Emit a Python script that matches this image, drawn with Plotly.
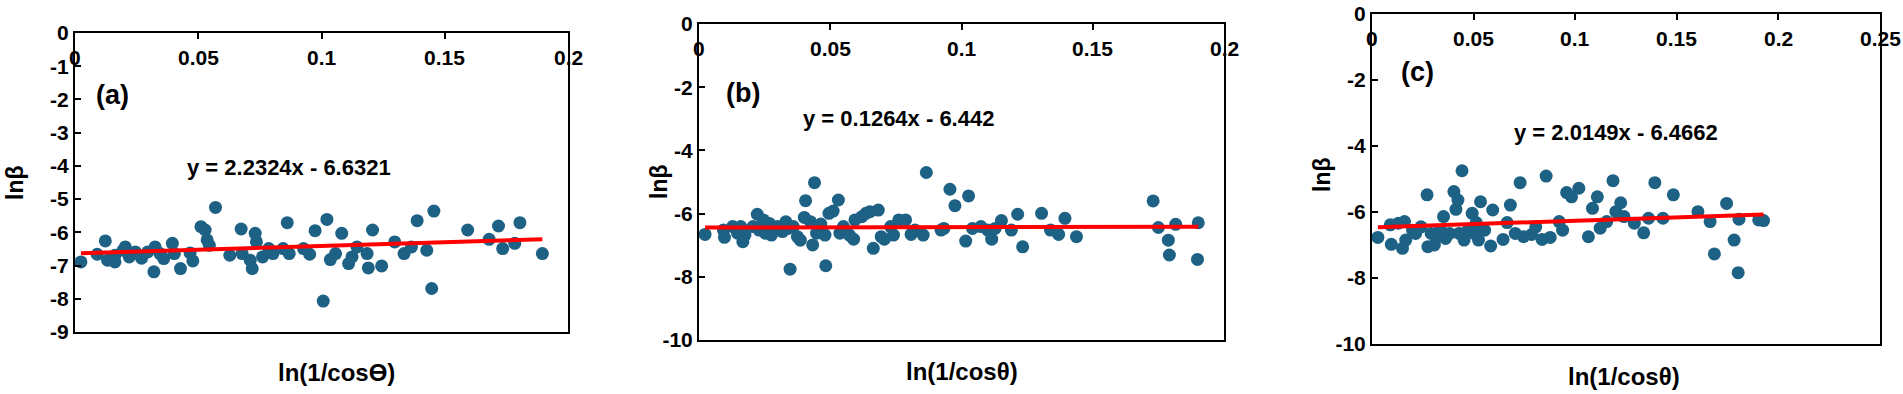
import numpy as np
import plotly.graph_objects as go

# panel (a)
xa = [0.0024, 0.009, 0.0123, 0.0132, 0.0162, 0.0162, 0.0195, 0.0204, 0.022, 0.0245,
      0.027, 0.0295, 0.032, 0.0325, 0.0345, 0.036, 0.0395, 0.0403, 0.0428, 0.0467,
      0.0478, 0.0511, 0.0528, 0.0536, 0.0545, 0.057, 0.0628, 0.0674, 0.0678, 0.0711,
      0.0719, 0.0731, 0.0736, 0.0761, 0.0786, 0.0803, 0.0844, 0.0861, 0.0869, 0.0927,
      0.0952, 0.0974, 0.1007, 0.1022, 0.1036, 0.1057, 0.1082, 0.111, 0.1124, 0.1144,
      0.1185, 0.119, 0.1207, 0.1244, 0.1297, 0.1335, 0.1365, 0.1388, 0.1427, 0.1447,
      0.1456, 0.1593, 0.168, 0.1718, 0.1735, 0.1784, 0.1805, 0.1896]
ya = [-6.89, -6.66, -6.26, -6.84, -6.69, -6.89, -6.54, -6.44, -6.74, -6.59,
      -6.78, -6.59, -7.19, -6.44, -6.64, -6.79, -6.33, -6.64, -7.09, -6.62,
      -6.86, -5.83, -5.93, -6.23, -6.39, -5.25, -6.69, -5.90, -6.64, -6.84,
      -7.09, -6.03, -6.29, -6.74, -6.49, -6.64, -6.49, -5.71, -6.64, -6.49,
      -6.66, -5.95, -8.07, -5.61, -6.82, -6.64, -6.03, -6.94, -6.74, -6.44,
      -6.64, -7.07, -5.93, -7.01, -6.29, -6.64, -6.44, -5.65, -6.54, -7.69,
      -5.36, -5.93, -6.21, -5.81, -6.49, -6.33, -5.71, -6.64]

# panel (b)
xb = [0.0023, 0.0093, 0.0097, 0.0128, 0.0147, 0.0159, 0.0167, 0.0175, 0.0206, 0.0222,
      0.0229, 0.0245, 0.0253, 0.0268, 0.0276, 0.030, 0.0318, 0.0331, 0.0339, 0.0347,
      0.0359, 0.0375, 0.0386, 0.0401, 0.0406, 0.0425, 0.0433, 0.044, 0.0448, 0.0464,
      0.048, 0.0483, 0.0495, 0.0511, 0.0531, 0.0537, 0.055, 0.0573, 0.0589, 0.0594,
      0.062, 0.0636, 0.0651, 0.0664, 0.0683, 0.0694, 0.0706, 0.073, 0.0741, 0.0761,
      0.0787, 0.0808, 0.0823, 0.0854, 0.0866, 0.0922, 0.0933, 0.0956, 0.0975, 0.1016,
      0.1027, 0.1042, 0.1074, 0.110, 0.1115, 0.1128, 0.1152, 0.119, 0.1214, 0.1233,
      0.1305, 0.1339, 0.137, 0.1394, 0.1438, 0.173, 0.175, 0.1788, 0.1792, 0.1816,
      0.1902, 0.1899]
yb = [-6.66, -6.52, -6.75, -6.41, -6.62, -6.41, -6.89, -6.68, -6.41, -6.02,
      -6.52, -6.20, -6.62, -6.31, -6.68, -6.41, -6.57, -6.26, -6.47, -7.76,
      -6.41, -6.73, -6.84, -6.12, -5.59, -6.26, -6.99, -5.02, -6.62, -6.33,
      -6.68, -7.65, -5.99, -5.92, -5.57, -6.62, -6.41, -6.68, -6.81, -6.20,
      -6.10, -5.99, -5.94, -7.10, -5.89, -6.73, -6.81, -6.41, -6.68, -6.20,
      -6.20, -6.66, -6.52, -6.68, -4.70, -6.52, -6.47, -5.23, -5.75, -6.87,
      -5.44, -6.47, -6.41, -6.52, -6.81, -6.47, -6.22, -6.52, -6.02, -7.05,
      -5.99, -6.52, -6.66, -6.15, -6.73, -5.60, -6.44, -6.84, -7.31, -6.34,
      -6.29, -7.45]

# panel (c)
xc = [0.0029, 0.009, 0.0095, 0.013, 0.015, 0.016, 0.0166, 0.020, 0.0215, 0.0241,
      0.0271, 0.0275, 0.0291, 0.0307, 0.0322, 0.0336, 0.0352, 0.0362, 0.0382, 0.0403,
      0.0413, 0.0423, 0.0429, 0.0443, 0.0453, 0.0473, 0.0493, 0.0503, 0.0513, 0.0524,
      0.0534, 0.0554, 0.0584, 0.0594, 0.0645, 0.0665, 0.0681, 0.0705, 0.0729, 0.0746,
      0.0786, 0.0806, 0.0837, 0.0857, 0.0877, 0.0921, 0.0938, 0.0958, 0.0982, 0.1018,
      0.1065, 0.1085, 0.1109, 0.1123, 0.1155, 0.1186, 0.12, 0.1224, 0.124, 0.1291,
      0.1337, 0.1361, 0.1392, 0.1432, 0.1483, 0.1604, 0.1664, 0.1685, 0.1745, 0.1782,
      0.1802, 0.1806, 0.1903, 0.1927]
yc = [-6.77, -6.39, -6.98, -6.34, -7.10, -6.29, -6.85, -6.55, -6.65, -6.45,
      -5.48, -7.05, -6.65, -7.00, -6.75, -6.55, -6.14, -6.80, -6.65, -5.38,
      -5.92, -5.64, -6.65, -4.75, -6.85, -6.55, -6.04, -6.65, -6.32, -6.85,
      -5.69, -6.55, -7.03, -5.94, -6.83, -6.32, -5.79, -6.65, -5.11, -6.75,
      -6.68, -6.45, -6.83, -4.91, -6.77, -6.29, -6.55, -5.41, -5.54, -5.28,
      -6.75, -5.89, -5.54, -6.49, -6.29, -5.05, -5.99, -5.72, -6.14, -6.34,
      -6.63, -6.19, -5.11, -6.19, -5.48, -5.99, -6.29, -7.27, -5.74, -6.85,
      -7.84, -6.22, -6.24, -6.26]

# linear fits as printed on the chart
slopes = [2.2324, 0.1264, 2.0149]
intercepts = [-6.6321, -6.442, -6.4662]
equations = ["y = 2.2324x - 6.6321", "y = 0.1264x - 6.442", "y = 2.0149x - 6.4662"]
panel_labels = ["(a)", "(b)", "(c)"]
xtitles = ["ln(1/cosϴ)", "ln(1/cosθ)", "ln(1/cosθ)"]
xticks = [["0", "0.05", "0.1", "0.15", "0.2"],
          ["0", "0.05", "0.1", "0.15", "0.2"],
          ["0", "0.05", "0.1", "0.15", "0.2", "0.25"]]

W, H = 1903, 394
FONT = "Liberation Sans"
DOT = "#1d6184"

# plot boxes in pixels: left, right, top, bottom
boxes = [(75, 568, 33, 332), (699, 1224, 24, 340), (1372, 1880, 14, 344)]
xranges = [(0, 0.2), (0, 0.2), (0, 0.25)]
yranges = [(-9, 0), (-10, 0), (-10, 0)]
ysteps = [1, 2, 2]
eq_pos = [(289, 167), (898, 118), (1616, 133)]
lab_pos = [(112, 95), (743, 93), (1417, 72)]
xt_pos = [(336, 372), (962, 371), (1624, 376)]
yt_pos = [(15, 183), (659, 182), (1322, 175)]

data = [(xa, ya), (xb, yb), (xc, yc)]

fig = go.Figure()
bold = lambda s: dict(family=FONT, size=s, color="black", weight="bold")

for i, (xs, ys) in enumerate(data):
    n = "" if i == 0 else str(i + 1)
    xref, yref = "x" + n, "y" + n
    fig.add_trace(go.Scatter(x=xs, y=ys, mode="markers", xaxis=xref, yaxis=yref,
                             marker=dict(size=13, color=DOT), showlegend=False))
    lx = np.array([min(xs), max(xs)])
    fig.add_trace(go.Scatter(x=lx, y=slopes[i] * lx + intercepts[i], mode="lines",
                             xaxis=xref, yaxis=yref, line=dict(color="#ff0000", width=4),
                             showlegend=False))

    l, r, t, b = boxes[i]
    yv = list(np.arange(yranges[i][0], yranges[i][1] + 0.5, ysteps[i]))
    xv = [float(s) for s in xticks[i]]
    fig.update_layout({
        "xaxis" + n: dict(domain=[l / W, r / W], range=list(xranges[i]), anchor=yref,
                          side="top", tickvals=xv, showticklabels=False, automargin=False,
                          ticks="inside", ticklen=6, tickwidth=2, tickcolor="black",
                          showline=True, linewidth=2, linecolor="black", mirror=True,
                          showgrid=False, zeroline=False),
        "yaxis" + n: dict(domain=[1 - b / H, 1 - t / H], range=list(yranges[i]), anchor=xref,
                          tickvals=yv, ticktext=[str(int(v)) for v in yv], automargin=False,
                          ticks="inside", ticklen=6, tickwidth=2, tickcolor="black",
                          showline=True, linewidth=2, linecolor="black", mirror=True,
                          showgrid=False, zeroline=False, tickfont=bold(21)),
    })

    # x tick labels sit just under the top axis line (axis crosses at y = 0)
    for v, s in zip(xv, xticks[i]):
        fig.add_annotation(text=s, x=v, y=yranges[i][1], xref=xref, yref=yref,
                           showarrow=False, xanchor="center", yanchor="top", yshift=-11,
                           font=bold(21))

    ann = [
        (equations[i], eq_pos[i], 22, 0),
        (panel_labels[i], lab_pos[i], 27, 0),
        (xtitles[i], xt_pos[i], 24, 0),
        ("lnβ", yt_pos[i], 23, -90),
    ]
    for text, (px, py), size, ang in ann:
        fig.add_annotation(text=text, x=px / W, y=1 - py / H, xref="paper", yref="paper",
                           showarrow=False, xanchor="center", yanchor="middle",
                           textangle=ang, font=bold(size))

fig.update_layout(width=W, height=H, margin=dict(l=0, r=0, t=0, b=0, pad=0),
                  paper_bgcolor="white", plot_bgcolor="white")
# drop the page's default body margin so the figure sits at the window corner
fig.write_html("out.html", config={"displayModeBar": False},
               post_script="document.body.style.margin='0px';")
